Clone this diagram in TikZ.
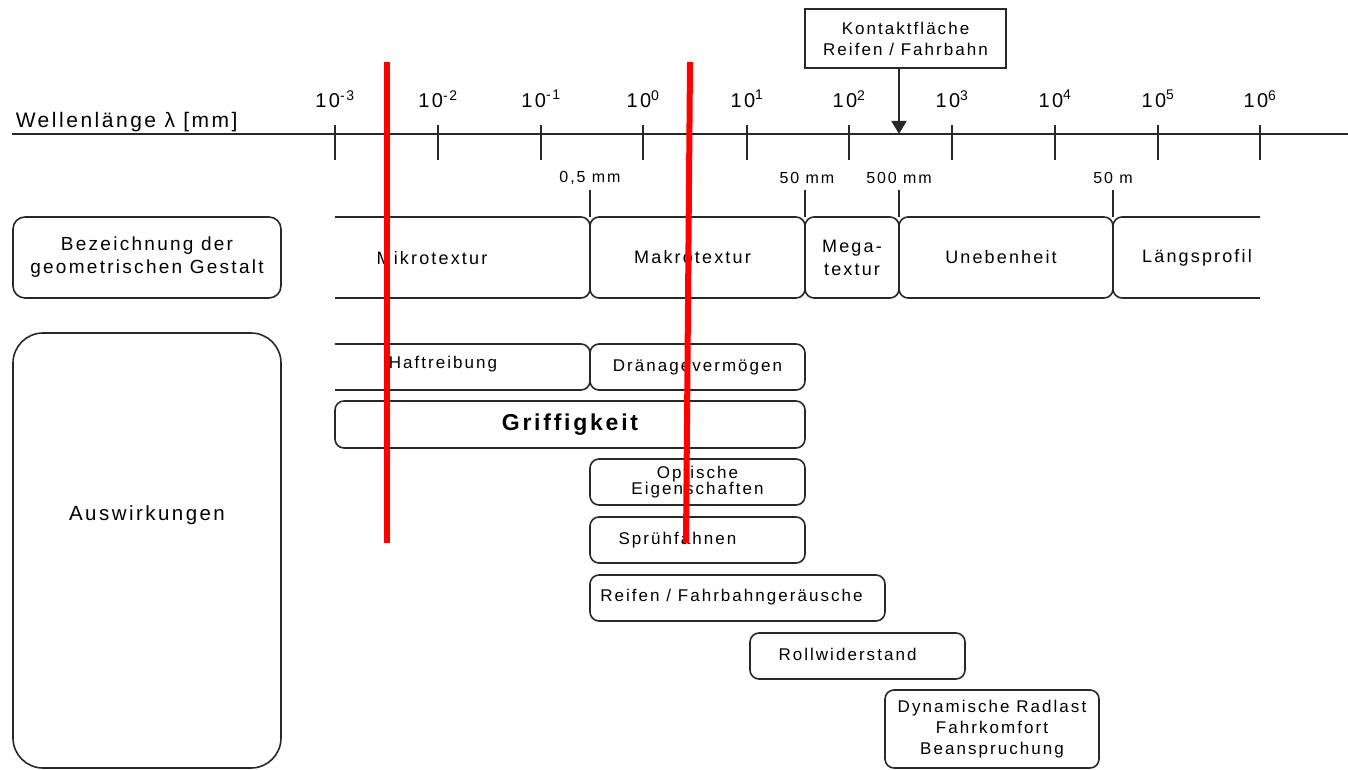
\documentclass[tikz,border=0pt]{standalone}
\usepackage{fontspec}
\setmainfont{Liberation Sans}[LetterSpace=12]
\usepackage{tikz}
\usetikzlibrary{arrows.meta,positioning}
\definecolor{LineGray}{RGB}{40,40,40}
\definecolor{MarkRed}{RGB}{255,0,0}

\begin{document}
\begin{tikzpicture}[x=1pt,y=-1pt,
    line width=1.6pt, draw=LineGray,
    lbl/.style={inner sep=0pt, align=center, font=\fontsize{17}{20}\selectfont},
    rbox/.style={draw=LineGray, rounded corners=9pt, inner sep=0pt, align=center, font=\fontsize{17}{16}\selectfont},
  ]
    \useasboundingbox (0,0) rectangle (1348,770);
    % Achse
    \coordinate (axL) at (12,134);
    \coordinate (axR) at (1348,134);
    \draw[line width=2pt] (axL) -- (axR);
    \node[lbl, anchor=west, font=\fontsize{21}{24}\selectfont] (wl) at (15,122) {Wellenlänge λ [mm]};
    \foreach \e/\x in {-3/335,-2/438,-1/541,0/643,1/747,2/849,3/952,4/1055,5/1158,6/1260} {
      \draw (\x,125) -- (\x,160);
      \node[lbl, font=\fontsize{20}{22}\selectfont] (p\e) at (\x,99) {10\textsuperscript{\e}};
    }
    \foreach \x/\t/\n in {590/{0,5 mm}/a,807/{50 mm}/b,899/{500 mm}/c,1113/{50 m}/d} {
      \node[lbl, font=\fontsize{16}{18}\selectfont] (m\n) at (\x,178) {\t};
    }
    \foreach \x in {590,805,899,1113} {
      \draw (\x,190) -- (\x,217);
    }
    \coordinate (k500) at (899,134);
    \node[draw=LineGray, minimum width=201pt, minimum height=59pt, lbl, font=\fontsize{17}{21}\selectfont] (kontakt) at (905.5,38.5) {Kontaktfläche\\Reifen / Fahrbahn};
    \draw[-{Triangle[length=13pt,width=15pt]}] (kontakt.south -| k500) -- (k500);

    % Gestalt
    \node[rbox, rounded corners=12pt, minimum width=268pt, minimum height=81pt, font=\fontsize{19}{23}\selectfont] (bez) at (147,257.5) {Bezeichnung der\\geometrischen Gestalt};
    \draw[rounded corners=9pt] (335,217) -- (590,217) -- (590,298) -- (335,298);
    \node[lbl, font=\fontsize{18}{22}\selectfont] (mikro) at (432,258) {Mikrotextur};
    \node[rbox, minimum width=215pt, minimum height=81pt, font=\fontsize{18}{22}\selectfont] (makro) at (697.5,257.5) {Makrotextur\hspace*{10pt}};
    \node[rbox, minimum width=94pt, minimum height=81pt, font=\fontsize{18}{23}\selectfont] (mega) at (852,257.5) {Mega-\\textur};
    \node[rbox, minimum width=214pt, minimum height=81pt, font=\fontsize{18}{22}\selectfont] (uneben) at (1006,257.5) {Unebenheit\hspace*{10pt}};
    \draw[rounded corners=9pt] (1260,217) -- (1113,217) -- (1113,298) -- (1260,298);
    \node[lbl, font=\fontsize{18}{22}\selectfont] (laengs) at (1197,258) {Längsprofil};

    % Auswirkungen
    \node[rbox, rounded corners=30pt, minimum width=268pt, minimum height=435pt] (ausw) at (147,550.5) {};
    \node[lbl, font=\fontsize{20.5}{22}\selectfont] (auswtext) at (147,515) {Auswirkungen};
    \draw[rounded corners=9pt] (335,344) -- (590,344) -- (590,390) -- (335,390);
    \node[lbl] (haft) at (443,364) {Haftreibung};
    \node[rbox, minimum width=215pt, minimum height=46pt] (drain) at (697.5,367) {\raisebox{3pt}{Dränagevermögen}};
    \node[rbox, minimum width=470pt, minimum height=47pt, font=\fontsize{23}{26}\bfseries] (griff) at (570,424.5) {Griffigkeit};
    \node[rbox, minimum width=215pt, minimum height=46pt] (opt) at (697.5,482) {Optische\\Eigenschaften};
    \node[rbox, minimum width=215pt, minimum height=46pt] (spruh) at (697.5,540) {\raisebox{3pt}{Sprühfahnen}\hspace*{40pt}};
    \node[rbox, minimum width=295pt, minimum height=46pt] (reifen) at (737.5,598) {\raisebox{5pt}{Reifen / Fahrbahngeräusche}\hspace*{12pt}};
    \node[rbox, minimum width=215pt, minimum height=46pt] (roll) at (857.5,656) {\raisebox{4pt}{Rollwiderstand}\hspace*{20pt}};
    \node[rbox, minimum width=214pt, minimum height=78pt, font=\fontsize{17}{21}\selectfont] (dyn) at (992,729) {Dynamische Radlast\\Fahrkomfort\\Beanspruchung};

    % Markierungen
    \draw[MarkRed, line width=6pt] (387,62) -- (387,543);
    \draw[MarkRed, line width=6pt] (690,62) -- (686,543);
\end{tikzpicture}
\end{document}
